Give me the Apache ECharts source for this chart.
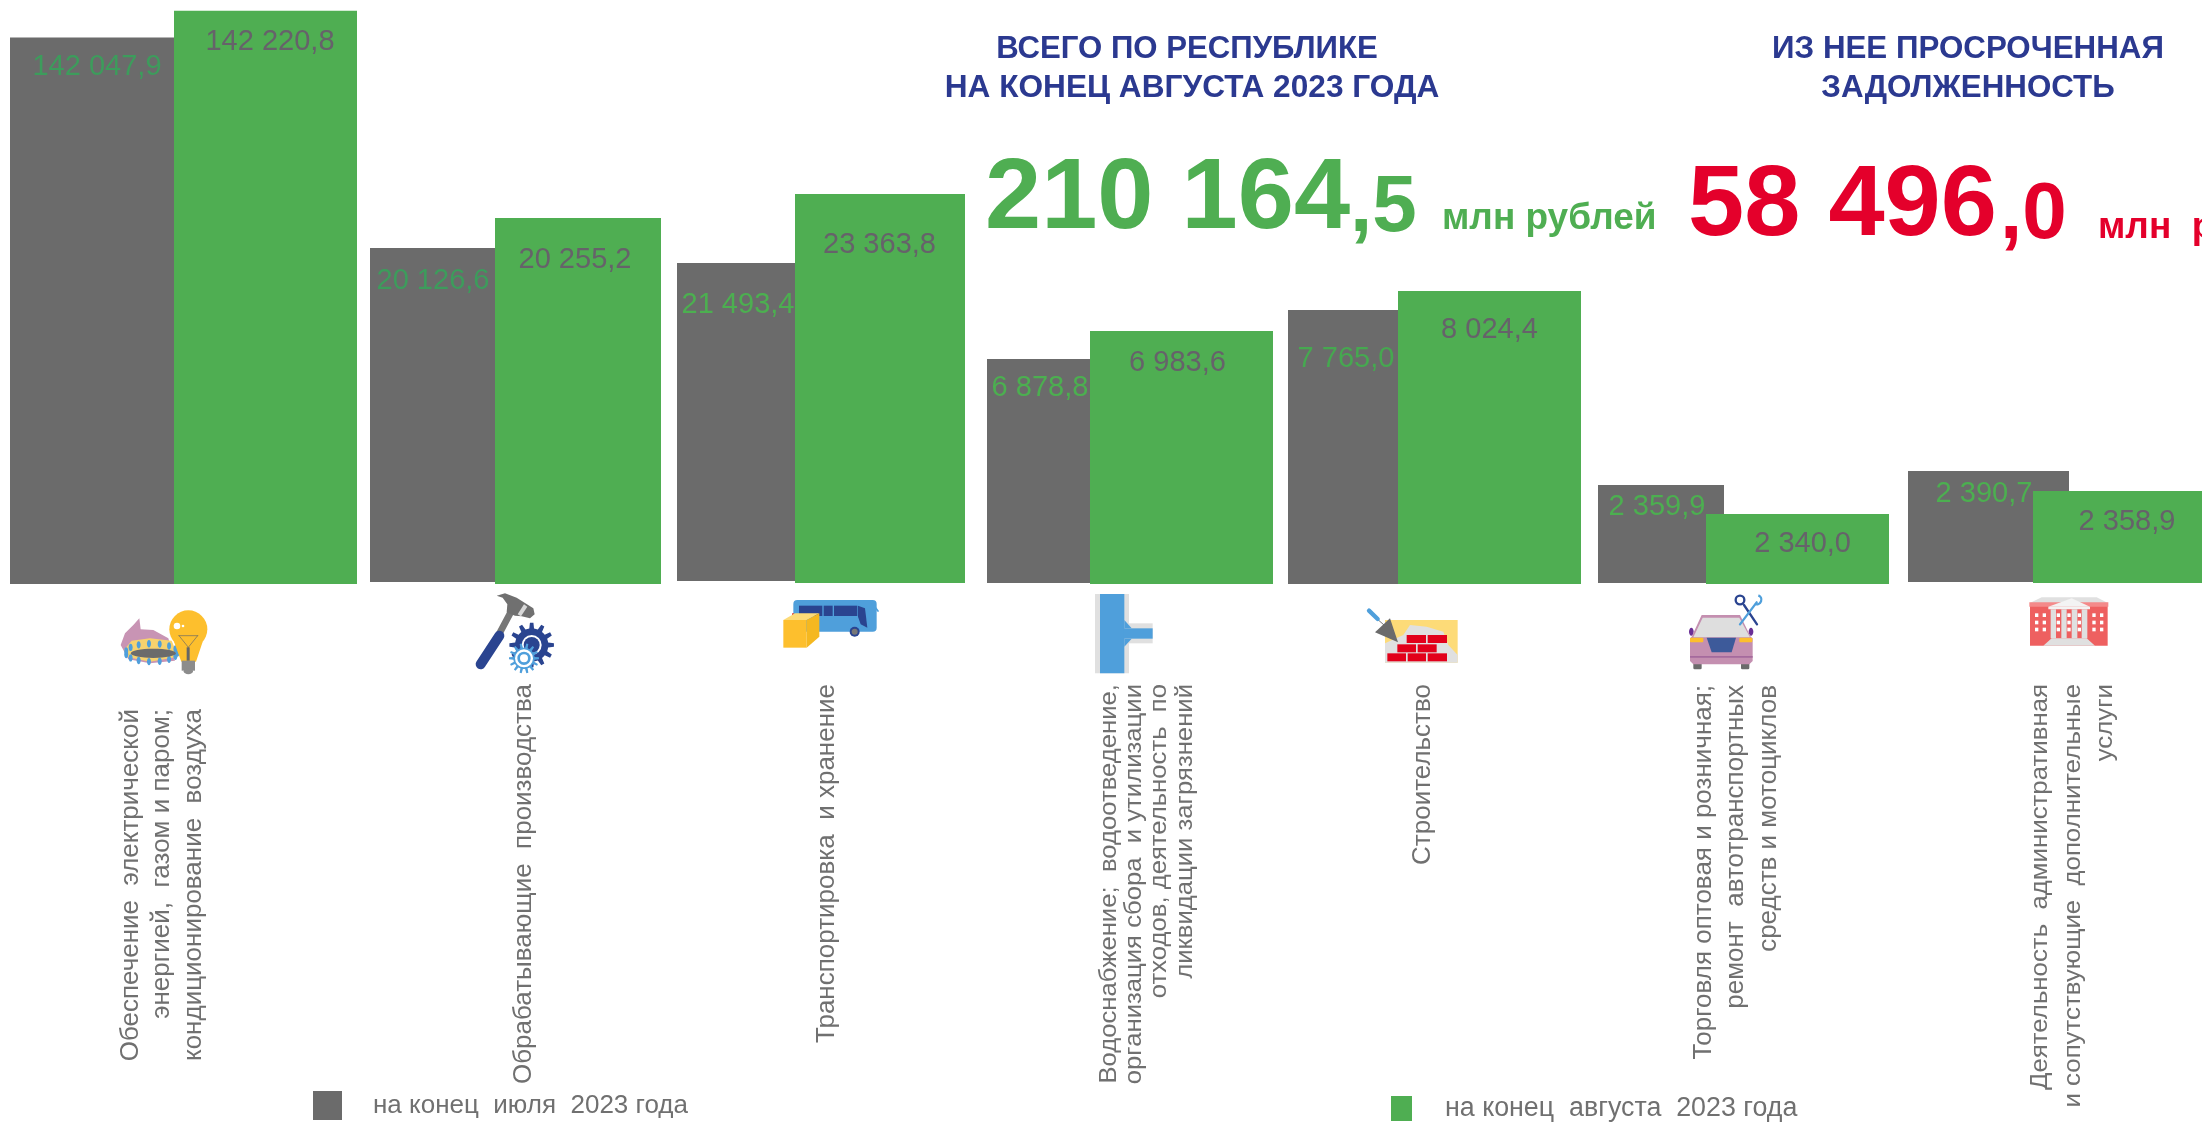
<!DOCTYPE html>
<html lang="ru">
<head>
<meta charset="utf-8">
<style>html,body{margin:0;padding:0;background:#fff;overflow:hidden}#c{width:2202px;height:1124px}</style>
<script src="https://cdn.jsdelivr.net/npm/echarts@6/dist/echarts.min.js"></script>
</head>
<body>
<div id="c"></div>
<script>
// ---------- data ----------
const categoryLines = [
  ['Обеспечение  электрической', 'энергией,  газом и паром;', 'кондиционирование  воздуха'],
  ['Обрабатывающие  производства'],
  ['Транспортировка  и хранение'],
  ['Водоснабжение;  водоотведение,', 'организация сбора  и утилизации', 'отходов, деятельность  по', 'ликвидации загрязнений'],
  ['Строительство'],
  ['Торговля оптовая и розничная;', 'ремонт  автотранспортных', 'средств и мотоциклов'],
  ['Деятельность  административная', 'и сопутствующие  дополнительные', 'услуги']
];
const julyName = 'на конец  июля  2023 года';
const augustName = 'на конец  августа  2023 года';
const julyValues = [142047.9, 20126.6, 21493.4, 6878.8, 7765.0, 2359.9, 2390.7];
const augustValues = [142220.8, 20255.2, 23363.8, 6983.6, 8024.4, 2340.0, 2358.9];
const totalInt = '210 164', totalDec = ',5';
const overdueInt = '58 496', overdueDec = ',0';
const unitText = 'млн рублей';
const unitText2 = 'млн  рублей';

// the source uses an independent (broken) scale for every bar
const julyAxisMax = [151822, 35071, 39269, 17903, 16550, 14039, 12535];
const augustAxisMax = [144875, 32319, 35016, 16120, 15994, 19522, 14948];

// ---------- layout ----------
const julyLeft = [10, 370, 677, 987, 1288, 1598, 1908];
const julyWidth = [201, 140, 130, 120, 154, 126, 161];
const julyBottom = [584, 582, 581, 583, 584, 583, 582];
const augustLeft = [174, 495, 795, 1090, 1398, 1706, 2033];
const augustWidth = [183, 166, 170, 183, 183, 183, 207];
const augustBottom = [584, 584, 583, 584, 584, 584, 583];
const julyLabelPos = [[87,29],[63,33],[61,42],[53,29],[58,49],[59,22],[76,23]];
const augustLabelPos = [[96,31],[80,42],[84.5,51],[87.5,32],[91.5,39],[96.6,30],[94,31]];
const julyLabelColor = ['#3d9c5c','#3d9c5c','#4caf50','#4caf50','#46a850','#4caf50','#4caf50'];
const catLineX = [[131,162,194],[523.5],[827],[1109,1134,1159,1185],[1423],[1704,1736,1769],[2040,2073,2105]];
const catTop = [709,684,684,684,684,685,684];
const catFont = [26,26,26,24,26,25,24];
const catStretch = [1,1,1,1.07,1,1.04,1.075];

const GREY = '#6b6b6b', GREEN = '#4fae52', NAVY = '#2b3990', RED = '#e4002b', TXT = '#707070';
const BLUE = '#4f9fdb', DBLUE = '#2a4490', YEL = '#fdbf2d', LYEL = '#fddb78', LG = '#e0e0e0', BR = '#e2001a';

const fmt = v => {
  const [a, b] = v.toFixed(1).split('.');
  return a.replace(/\B(?=(\d{3})+$)/g, ' ') + ',' + b;
};

const grid = [], xAxis = [], yAxis = [], series = [];
function addBar(i, name, value, left, width, bottom, axisMax, color, labelPos, labelColor, z) {
  const idx = grid.length;
  grid.push({ left, width, top: 0, height: bottom, containLabel: false });
  xAxis.push({ type: 'category', gridIndex: idx, show: false, data: [categoryLines[i].join(' ')] });
  yAxis.push({ type: 'value', gridIndex: idx, show: false, min: 0, max: axisMax });
  series.push({
    type: 'bar', name, xAxisIndex: idx, yAxisIndex: idx, barWidth: '100%', z,
    itemStyle: { color }, data: [value], clip: false,
    label: {
      show: true, position: labelPos, align: 'center', verticalAlign: 'middle',
      formatter: p => fmt(p.value), color: labelColor,
      fontFamily: 'Liberation Sans', fontSize: 29
    }
  });
}
categoryLines.forEach((_, i) => {
  addBar(i, julyName, julyValues[i], julyLeft[i], julyWidth[i], julyBottom[i], julyAxisMax[i], GREY, julyLabelPos[i], julyLabelColor[i], 2);
});
categoryLines.forEach((_, i) => {
  addBar(i, augustName, augustValues[i], augustLeft[i], augustWidth[i], augustBottom[i], augustAxisMax[i], GREEN, augustLabelPos[i], '#66626a', 3);
});

// ---------- text helpers ----------
const T = (text, x, y, font, fill, align, sx) => ({
  type: 'text', x, y, scaleX: sx || 1, z: 10,
  style: { text, font, fill, textAlign: align || 'left', textVerticalAlign: 'bottom' }
});
const graphics = [];
const HF = 'bold 31px "Liberation Sans"';
graphics.push(
  T('ВСЕГО ПО РЕСПУБЛИКЕ', 1187, 65, HF, NAVY, 'center', 1.005),
  T('НА КОНЕЦ АВГУСТА 2023 ГОДА', 1192, 104, HF, NAVY, 'center', 1.02),
  T('ИЗ НЕЕ ПРОСРОЧЕННАЯ', 1968, 65, HF, NAVY, 'center', 1.01),
  T('ЗАДОЛЖЕННОСТЬ', 1968, 104, HF, NAVY, 'center', 1.01),
  T(totalInt, 985, 251, 'bold 101px "Liberation Sans"', GREEN),
  T(totalDec, 1350, 249, 'bold 80px "Liberation Sans"', GREEN),
  T(unitText, 1442, 237, 'bold 37px "Liberation Sans"', GREEN),
  T(overdueInt, 1688, 258, 'bold 101px "Liberation Sans"', RED),
  T(overdueDec, 2000, 256, 'bold 80px "Liberation Sans"', RED),
  T(unitText2, 2098, 246, 'bold 37px "Liberation Sans"', RED)
);
categoryLines.forEach((lines, i) => {
  lines.forEach((ln, j) => {
    graphics.push({
      type: 'text', x: catLineX[i][j], y: catTop[i], rotation: Math.PI / 2, scaleX: catStretch[i], z: 10,
      style: { text: ln, font: catFont[i] + 'px "Liberation Sans"', fill: TXT, textAlign: 'right', textVerticalAlign: 'middle' }
    });
  });
});

// ---------- pictograms (drawn in 3x-zoomed local units) ----------
const P = (pts, fill) => ({ type: 'polygon', shape: { points: pts }, style: { fill } });
const R = (x, y, w, h, fill, r) => ({ type: 'rect', shape: { x, y, width: w, height: h, r: r || 0 }, style: { fill } });
const C = (cx, cy, r, fill) => ({ type: 'circle', shape: { cx, cy, r }, style: { fill } });
const E = (cx, cy, rx, ry, fill) => ({ type: 'ellipse', shape: { cx, cy, rx, ry }, style: { fill } });
const L = (x1, y1, x2, y2, w, stroke) => ({ type: 'line', shape: { x1, y1, x2, y2 }, style: { stroke, lineWidth: w, lineCap: 'round' } });
const RING = (cx, cy, r, w, stroke) => ({ type: 'circle', shape: { cx, cy, r }, style: { fill: 'none', stroke, lineWidth: w } });
function gear(cx, cy, ro, ri, n, fill) {
  const pts = [];
  for (let k = 0; k < n; k++) {
    const a = k * 2 * Math.PI / n, d = Math.PI / n;
    [[-0.55, ri], [-0.3, ro], [0.3, ro], [0.55, ri], [1, ri]].forEach(([f, r]) => {
      pts.push([cx + r * Math.cos(a + f * d), cy + r * Math.sin(a + f * d)]);
    });
  }
  return P(pts, fill);
}
const icon = (x, y, children) => ({ type: 'group', x, y, scaleX: 1 / 3, scaleY: 1 / 3, z: 10, children });

// energy
const blueTeeth = [];
for (let k = 0; k < 15; k++) {
  const a = Math.PI * 2 * k / 15;
  const cx = 155 + 78 * Math.cos(a), cy = 248 + 27 * Math.sin(a);
  blueTeeth.push(E(cx, cy, 6, 11, BLUE));
}
graphics.push(icon(100, 570, [
  P([[118,145],[122,178],[160,180],[205,205],[225,272],[150,280],[85,268],[62,225],[75,190],[100,165]], '#c894b4'),
  P([[72,240],[95,212],[150,205],[215,212],[235,260],[150,275],[85,262]], '#f7d26e'),
  ...blueTeeth,
  E(160, 250, 68, 14, GREY),
  C(265, 178, 57, YEL),
  P([[222,215],[308,215],[288,275],[244,275]], YEL),
  R(245, 272, 40, 30, '#8c8c8c'),
  E(265, 304, 14, 9, '#8c8c8c'),
  L(237, 197, 293, 197, 2, '#666'), L(237, 197, 265, 232, 2, '#666'), L(293, 197, 265, 232, 2, '#666'),
  R(260, 232, 9, 40, '#666'),
  C(231, 168, 10, '#fff'), C(249, 168, 4, '#fff')
]));
// hammer + gears
graphics.push(icon(450, 575, [
  L(182, 112, 150, 172, 20, '#777'),
  L(148, 182, 92, 268, 30, DBLUE),
  P([[140,62],[165,55],[200,68],[250,100],[254,118],[240,130],[215,124],[195,122],[170,112],[172,88],[158,68]], '#707070'),
  P([[203,118],[222,88],[232,95],[213,124]], '#d8d8d8'),
  gear(245, 210, 67, 50, 12, DBLUE),
  C(245, 210, 30, '#fff'),
  C(245, 210, 24, DBLUE),
  gear(222, 250, 45, 32, 14, BLUE),
  C(222, 250, 27, '#fff'),
  RING(222, 250, 16, 8, BLUE)
]));
// bus + box
graphics.push(icon(450, 575, [
  R(1030, 75, 250, 95, BLUE, 12),
  L(1268, 87, 1284, 108, 5, BLUE),
  R(1047, 92, 70, 31, DBLUE), R(1121, 92, 27, 31, DBLUE), R(1152, 92, 70, 31, DBLUE),
  P([[1224,92],[1245,100],[1252,158],[1232,148],[1224,125]], DBLUE),
  C(1214, 170, 15, DBLUE), C(1214, 170, 9, '#777'),
  R(1026, 115, 6, 15, '#e2473a'),
  P([[1000,135],[1070,135],[1070,218],[1000,218]], YEL),
  P([[1000,135],[1035,115],[1108,115],[1070,135]], LYEL),
  P([[1070,135],[1108,115],[1108,185],[1070,218]], '#f5b820')
]));
// water pipe
graphics.push(icon(1060, 575, [
  R(105, 57, 102, 238, LG),
  R(195, 145, 83, 60, LG),
  R(120, 57, 73, 238, BLUE),
  R(190, 160, 88, 31, BLUE),
  P([[193,135],[215,160],[193,160]], BLUE), P([[193,215],[215,191],[193,191]], BLUE)
]));
// bricks + trowel
graphics.push(icon(1060, 575, [
  R(975, 135, 218, 128, LYEL),
  P([[975,263],[975,205],[1030,180],[1050,150],[1100,155],[1150,170],[1165,210],[1193,240],[1193,263]], LG),
  R(1040,180,58,24,BR), R(1103,180,58,24,BR),
  R(1012,208,56,24,BR), R(1073,208,57,24,BR),
  R(982,235,56,24,BR), R(1043,235,55,24,BR), R(1103,235,58,24,BR),
  L(955, 135, 972, 150, 3, '#777'),
  L(927, 107, 953, 132, 13, BLUE),
  P([[945,172],[990,130],[1014,202]], GREY)
]));
// car + tools
graphics.push(icon(1660, 575, [
  E(94, 170, 7, 12, '#6a2f96'), E(273, 170, 7, 12, '#6a2f96'),
  R(100, 262, 25, 21, GREY, 4), R(243, 262, 25, 21, GREY, 4),
  P([[125,120],[240,120],[272,185],[278,190],[278,258],[268,268],[100,268],[90,258],[90,190],[95,185]], '#c48fb0'),
  P([[128,128],[238,128],[270,187],[100,187]], '#dedede'),
  P([[140,188],[228,188],[215,232],[155,232]], '#3d5a9a'),
  R(90, 188, 40, 14, YEL, 3), R(238, 188, 39, 14, YEL, 3),
  R(90, 243, 188, 5, '#a56a9d'),
  L(252, 90, 291, 148, 7, DBLUE),
  RING(240, 75, 13, 7, DBLUE),
  L(240, 148, 290, 82, 7, BLUE),
  { type: 'arc', shape: { cx: 290, cy: 74, r: 14, startAngle: -1.2, endAngle: 2.0, clockwise: true }, style: { stroke: BLUE, lineWidth: 7, fill: 'none' } }
]));
// building
const winRows = [115, 137, 158], winCols = [1125, 1148, 1190, 1222, 1253, 1297, 1320];
const wins = [];
winRows.forEach(y => winCols.forEach(x => wins.push(R(x, y, 10, 11, '#fff'))));
graphics.push(icon(1660, 575, [
  R(1110, 90, 233, 122, '#ee6060'),
  P([[1108,85],[1145,67],[1310,67],[1345,85]], LG),
  R(1108, 82, 237, 13, '#f48a8a'),
  ...wins,
  R(1172, 103, 16, 87, LG), R(1204, 103, 16, 87, LG), R(1235, 103, 17, 87, LG), R(1265, 103, 17, 87, LG),
  R(1165, 95, 125, 8, '#f3f3f3'),
  P([[1165,95],[1235,70],[1290,95]], '#f3f3f3'),
  P([[1150,212],[1175,190],[1280,190],[1305,212]], LG)
]));

const chart = echarts.init(document.getElementById('c'), null, { renderer: 'canvas' });
chart.setOption({
  animation: false,
  backgroundColor: '#fff',
  grid, xAxis, yAxis, series,
  legend: [
    { data: [julyName], left: 313, top: 1091, padding: 0, itemWidth: 29, itemHeight: 29, selectedMode: false, icon: 'rect',
      textStyle: { color: TXT, fontFamily: 'Liberation Sans', fontSize: 26, padding: [0, 0, 0, 26] } },
    { data: [augustName], left: 1391, top: 1095, padding: 0, itemWidth: 21, itemHeight: 25, selectedMode: false, icon: 'rect',
      textStyle: { color: TXT, fontFamily: 'Liberation Sans', fontSize: 26.8, padding: [10, 0, 0, 28] } }
  ],
  graphic: graphics
});
</script>
</body>
</html>
